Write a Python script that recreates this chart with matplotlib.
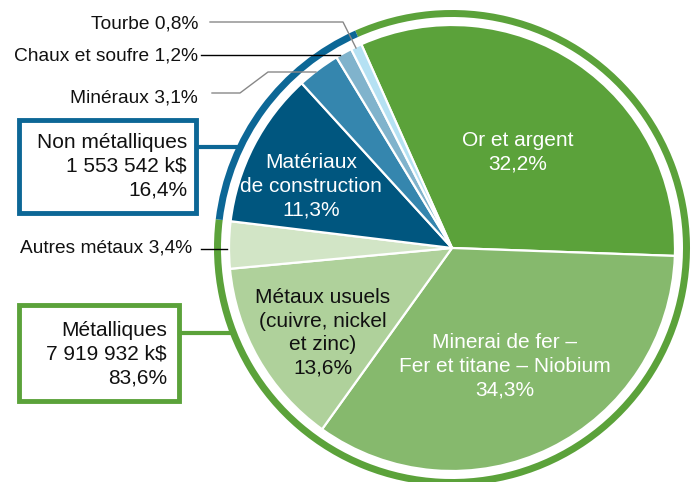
import matplotlib
matplotlib.use("Agg")
import matplotlib.pyplot as plt
from matplotlib.patches import Rectangle

plt.rcParams['font.family'] = ['Liberation Sans', 'DejaVu Sans']

# data
sectors = ["Or et argent", "Minerai de fer –\nFer et titane – Niobium",
           "Métaux usuels\n(cuivre, nickel\net zinc)", "Autres métaux",
           "Matériaux\nde construction", "Minéraux", "Chaux et soufre", "Tourbe"]
shares = [32.2, 34.3, 13.6, 3.4, 11.3, 3.1, 1.2, 0.8]
sector_colors = ["#5ba23a", "#86b96d", "#afd19b", "#d2e5c6",
                 "#00567f", "#3586ae", "#80b3cc", "#b5e1f3"]

groups = ["Métalliques", "Non métalliques"]
group_values = ["7 919 932 k$", "1 553 542 k$"]
group_shares = [83.6, 16.4]
group_colors = ["#5ba23a", "#0c6796"]

def pct(v):
    return ("%.1f%%" % v).replace(".", ",")

W, H = 693, 482
fig = plt.figure(figsize=(W / 100, H / 100), dpi=100)
ax = fig.add_axes([0, 0, 1, 1])

def Y(y):
    # pixel row from top -> data y
    return H - y

cx, cy = 452, 248
fs = 15
fs_out = 13.8

ax.pie(group_shares, colors=group_colors, radius=238, center=(cx, Y(cy)),
       startangle=114, counterclock=False, wedgeprops=dict(width=7, linewidth=0))
ax.pie(shares, colors=sector_colors, radius=223, center=(cx, Y(cy)),
       startangle=114, counterclock=False,
       wedgeprops=dict(edgecolor='white', linewidth=1.6))
ax.set_xlim(0, W)
ax.set_ylim(0, H)
ax.set_aspect('auto')
ax.axis('off')

# labels inside the slices
ax.text(518, Y(152), sectors[0] + "\n" + pct(shares[0]), color='white', fontsize=fs,
        ha='center', va='center', linespacing=1.3, zorder=5)
ax.text(505, Y(366), sectors[1] + "\n" + pct(shares[1]), color='white', fontsize=fs,
        ha='center', va='center', linespacing=1.3, zorder=5)
ax.text(323, Y(333), sectors[2] + "\n" + pct(shares[2]), color='#111111', fontsize=fs,
        ha='center', va='center', linespacing=1.3, zorder=5)
ax.text(311, Y(186), sectors[4] + "\n" + pct(shares[4]), color='white', fontsize=fs,
        ha='center', va='center', linespacing=1.3, zorder=5)

# outside labels with leader lines
ax.text(198, Y(24), sectors[7] + " " + pct(shares[7]), fontsize=fs_out, ha='right', va='center', color='#111111')
ax.plot([210, 343, 356], [Y(22), Y(22), Y(48)], color='#888888', lw=1)
ax.text(198, Y(56), sectors[6] + " " + pct(shares[6]), fontsize=fs_out, ha='right', va='center', color='#111111')
ax.plot([201, 340], [Y(55), Y(55)], color='black', lw=1)
ax.text(198, Y(98), sectors[5] + " " + pct(shares[5]), fontsize=fs_out, ha='right', va='center', color='#111111')
ax.plot([212, 240, 268, 316], [Y(93), Y(93), Y(72), Y(72)], color='#888888', lw=1)
ax.text(192, Y(248), sectors[3] + " " + pct(shares[3]), fontsize=fs_out, ha='right', va='center', color='#111111')
ax.plot([201, 227], [Y(249), Y(249)], color='black', lw=1)

# group boxes
ax.add_patch(Rectangle((19, Y(213)), 177, 93, fill=False, edgecolor=group_colors[1], lw=3.5))
ax.plot([197, 240], [Y(147), Y(147)], color=group_colors[1], lw=3)
ax.text(187, Y(166), groups[1] + "\n" + group_values[1] + "\n" + pct(group_shares[1]),
        fontsize=fs, ha='right', va='center', multialignment='right', linespacing=1.3, color='#111111')

ax.add_patch(Rectangle((19, Y(401)), 160, 96, fill=False, edgecolor=group_colors[0], lw=3.5))
ax.plot([180, 231], [Y(333), Y(333)], color=group_colors[0], lw=3)
ax.text(167, Y(354), groups[0] + "\n" + group_values[0] + "\n" + pct(group_shares[0]),
        fontsize=fs, ha='right', va='center', multialignment='right', linespacing=1.3, color='#111111')

fig.savefig("out.png", dpi=100)
